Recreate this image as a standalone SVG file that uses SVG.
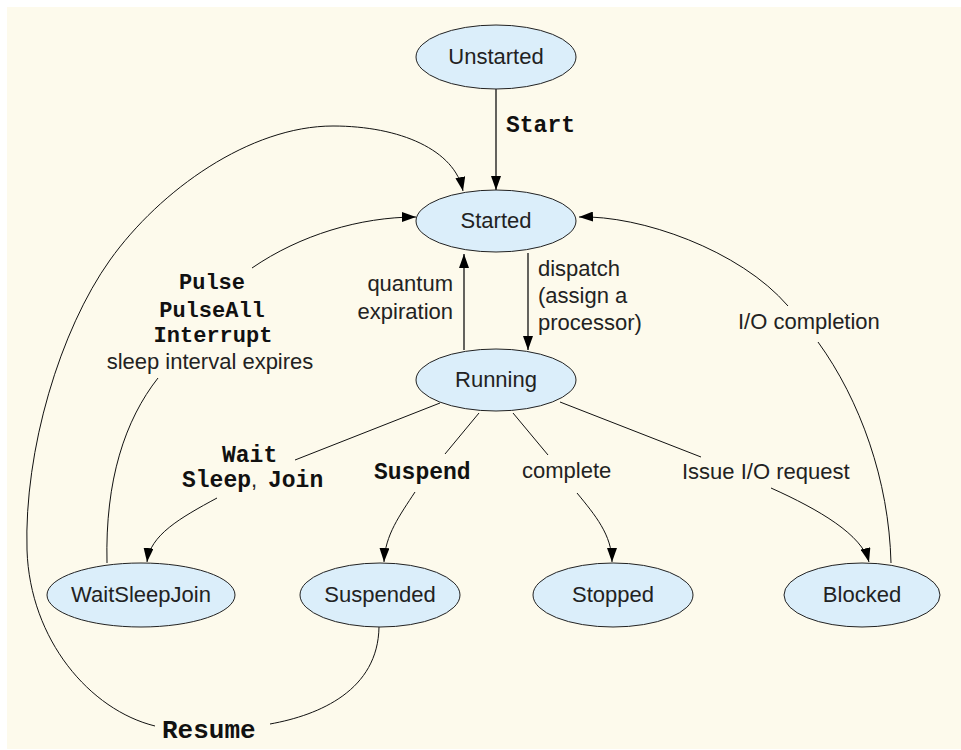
<svg xmlns="http://www.w3.org/2000/svg" width="961" height="750" viewBox="0 0 961 750">
<style>
.bg{fill:#FDFAEC}
.node ellipse{fill:#DBEEFA;stroke:#222;stroke-width:1}
.nt{font-family:"Liberation Sans",Arial,sans-serif;font-size:22px;fill:#222;text-anchor:middle}
.lbl{font-family:"Liberation Sans",Arial,sans-serif;font-size:22px;fill:#222}
.code{font-family:"Liberation Mono","Courier New",monospace;font-size:23px;font-weight:bold;fill:#111}
.edge{fill:none;stroke:#111;stroke-width:1}
.edge.arr{marker-end:url(#ah)}
.edge.st{stroke-width:1.3}
</style>
<defs>
<marker id="ah" markerUnits="userSpaceOnUse" markerWidth="15" markerHeight="10" refX="14" refY="5" orient="auto">
<path d="M0,0 L14,5 L0,10 z" fill="#000"/>
</marker>
</defs>
<rect class="bg" x="7" y="7" width="954" height="742"/>
<g id="connectors">
<path class="edge st arr" d="M496,89 L496,190"/>
<path class="edge st arr" d="M464,350 L464,254"/>
<path class="edge st arr" d="M528,253 L528,350"/>
<path class="edge arr" d="M155,726 C90,710 30,640 27,550 C24,450 60,330 110,260 C160,190 250,126 333,126 C400,126 455,150 463,191"/>
<path class="edge" d="M379,627 C378,690 320,715 270,724"/>
<path class="edge arr" d="M252,268 C300,235 360,217 416,217"/>
<path class="edge" d="M107,563 C105,480 125,420 158,378"/>
<path class="edge" d="M440,403 L295,460"/>
<path class="edge arr" d="M217,498 C180,518 150,535 147,562"/>
<path class="edge" d="M479,413 L445,454"/>
<path class="edge arr" d="M415,492 C400,515 385,535 384,562"/>
<path class="edge" d="M513,413 L548,455"/>
<path class="edge arr" d="M577,493 C595,515 612,535 612,562"/>
<path class="edge" d="M560,402 L701,457"/>
<path class="edge arr" d="M771,488 C820,510 862,535 869,562"/>
<path class="edge" d="M891,563 C889,480 860,400 818,342"/>
<path class="edge arr" d="M788,306 C740,250 640,215 579,217"/>
</g>
<g id="labels">
<text class="code" x="506" y="132">Start</text>
<text class="lbl" x="453" y="291" text-anchor="end">quantum</text>
<text class="lbl" x="453" y="319" text-anchor="end">expiration</text>
<text class="lbl" x="538" y="276">dispatch</text>
<text class="lbl" x="538" y="303">(assign a</text>
<text class="lbl" x="538" y="330">processor)</text>
<text class="lbl" x="738" y="329">I/O completion</text>
<text class="code" x="212" y="289" text-anchor="middle" style="font-size:22px">Pulse</text>
<text class="code" x="212" y="317" text-anchor="middle" style="font-size:22px">PulseAll</text>
<text class="code" x="213" y="342" text-anchor="middle" style="font-size:22px">Interrupt</text>
<text class="lbl" x="210" y="369" text-anchor="middle">sleep interval expires</text>
<text class="code" x="222" y="462">Wait</text>
<text class="code" x="182" y="487">Sleep<tspan class="lbl" style="font-weight:normal">,</tspan><tspan x="268">Join</tspan></text>
<text class="code" x="374" y="479">Suspend</text>
<text class="lbl" x="522" y="478">complete</text>
<text class="lbl" x="682" y="479">Issue I/O request</text>
<text class="code" x="162" y="738" style="font-size:26px">Resume</text>
</g>
<g id="unstarted" class="node"><ellipse cx="496" cy="57" rx="80" ry="32"/><text class="nt" x="496" y="64">Unstarted</text></g>
<g id="started" class="node"><ellipse cx="496" cy="221" rx="80" ry="31"/><text class="nt" x="496" y="228">Started</text></g>
<g id="running" class="node"><ellipse cx="496" cy="380" rx="80" ry="31"/><text class="nt" x="496" y="387">Running</text></g>
<g id="waitsleepjoin" class="node"><ellipse cx="141" cy="595" rx="94" ry="32"/><text class="nt" x="141" y="602">WaitSleepJoin</text></g>
<g id="suspended" class="node"><ellipse cx="380" cy="595" rx="80" ry="32"/><text class="nt" x="380" y="602">Suspended</text></g>
<g id="stopped" class="node"><ellipse cx="613" cy="595" rx="80" ry="32"/><text class="nt" x="613" y="602">Stopped</text></g>
<g id="blocked" class="node"><ellipse cx="862" cy="595" rx="78" ry="32"/><text class="nt" x="862" y="602">Blocked</text></g>
</svg>
